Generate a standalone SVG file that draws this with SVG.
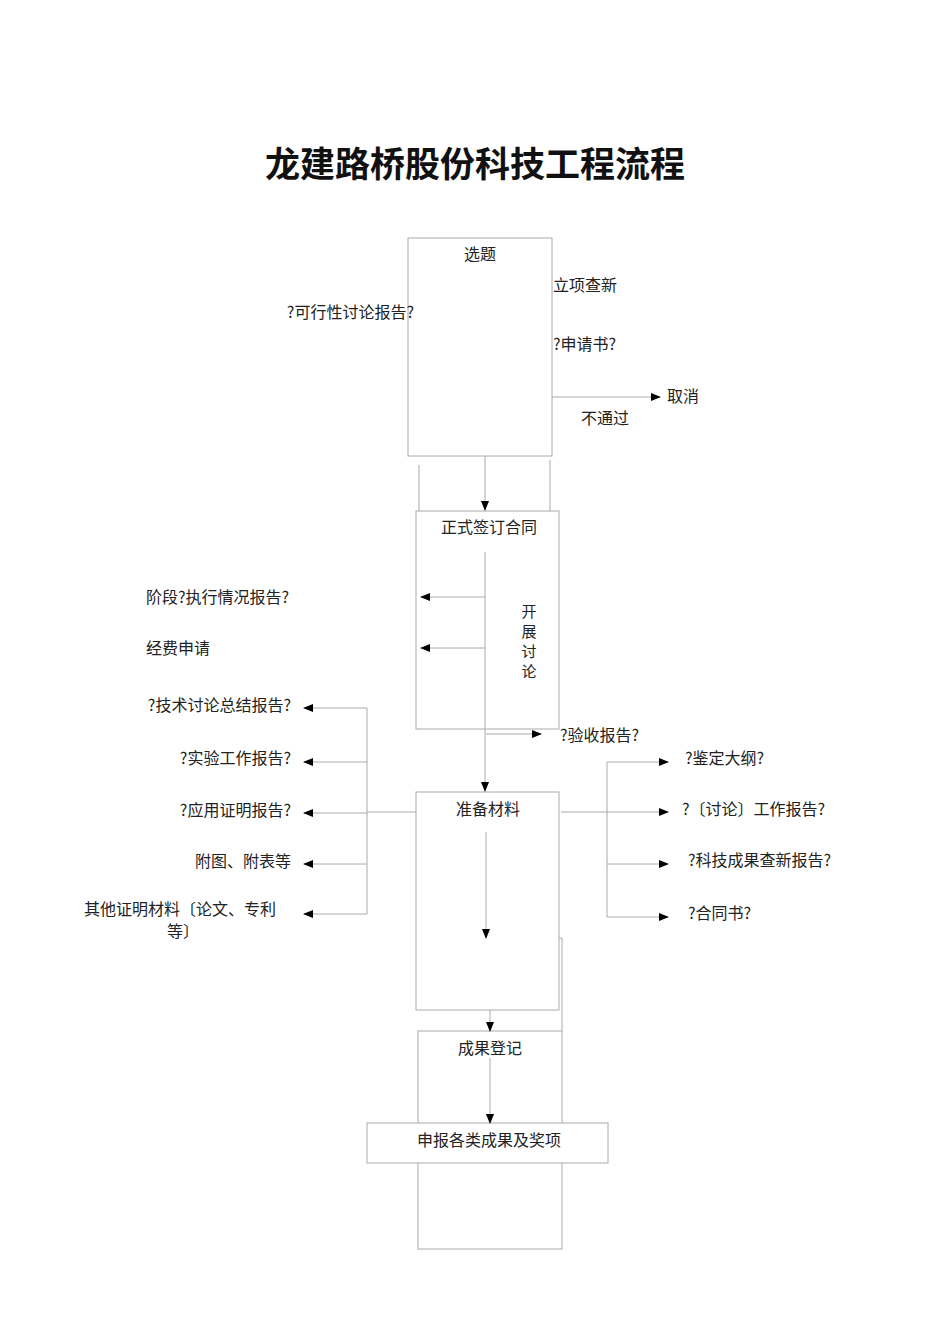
<svg xmlns="http://www.w3.org/2000/svg" width="950" height="1344" viewBox="0 0 950 1344">
<style>
text{font-family:"Noto Sans CJK SC","Liberation Sans",sans-serif;font-size:16px;fill:#222}
.t{font-size:35px;font-weight:bold;fill:#111}
.v{font-size:15px}
.b{fill:#fff;stroke:#aaa;stroke-width:1}
.l{stroke:#aaa;stroke-width:1;fill:none}
.a{stroke:#aaa;stroke-width:1;fill:none;marker-end:url(#ar)}
.m{text-anchor:middle}.e{text-anchor:end}
</style>
<defs><marker id="ar" markerWidth="10" markerHeight="8" refX="9" refY="4" orient="auto" markerUnits="userSpaceOnUse"><path d="M0,0L10,4L0,8z" fill="#000"/></marker></defs>
<rect width="950" height="1344" fill="#fff"/>
<text class="t m" x="475" y="177">龙建路桥股份科技工程流程</text>
<g id="n1"><rect class="b" x="408" y="238" width="144" height="218"/><text class="m" x="480" y="260">选题</text></g>
<g id="n2"><rect class="b" x="416" y="511" width="143" height="218"/><text class="m" x="489" y="533">正式签订合同</text></g>
<g id="n3"><rect class="b" x="416" y="792" width="143" height="218"/><text class="m" x="488" y="815">准备材料</text></g>
<g id="n4"><rect class="b" x="418" y="1031" width="144" height="218"/><text class="m" x="490" y="1054">成果登记</text></g>
<g id="n5"><rect class="b" x="367" y="1123" width="241" height="40"/><text class="m" x="489" y="1146">申报各类成果及奖项</text></g>
<g id="connectors">
<path class="a" d="M552,397H660"/>
<path class="l" d="M419,465V511M550,460V511"/>
<path class="a" d="M485,456V510"/>
<path class="a" d="M485,552V791"/>
<path class="a" d="M485,597H421"/>
<path class="a" d="M485,648H421"/>
<path class="a" d="M486,734H541"/>
<path class="a" d="M486,832V938"/>
<path class="l" d="M559,938H562V1031"/>
<path class="a" d="M490,1010V1031"/>
<path class="a" d="M490,1058V1123"/>
<path class="l" d="M416,812H367M367,708V914"/>
<path class="a" d="M367,708H304"/><path class="a" d="M367,762H304"/><path class="a" d="M367,813H304"/><path class="a" d="M367,864H304"/><path class="a" d="M367,914H304"/>
<path class="a" d="M561,812H668"/>
<path class="l" d="M607,762V917"/>
<path class="a" d="M607,762H668"/><path class="a" d="M607,864H668"/><path class="a" d="M607,917H668"/>
</g>
<g id="labels">
<text x="553" y="291">立项查新</text>
<text class="e" x="414" y="318">?可行性讨论报告?</text>
<text x="553" y="350">?申请书?</text>
<text x="667" y="402">取消</text>
<text x="581" y="424">不通过</text>
<text class="m v" x="529" y="617">开</text><text class="m v" x="529" y="637">展</text><text class="m v" x="529" y="657">讨</text><text class="m v" x="529" y="677">论</text>
<text x="146" y="603">阶段?执行情况报告?</text>
<text x="146" y="654">经费申请</text>
<text x="560" y="741">?验收报告?</text>
<text class="e" x="291" y="711">?技术讨论总结报告?</text>
<text class="e" x="291" y="764">?实验工作报告?</text>
<text class="e" x="291" y="816">?应用证明报告?</text>
<text class="e" x="291" y="867">附图、附表等</text>
<text x="84" y="915">其他证明材料〔论文、专利</text>
<text x="167" y="937">等〕</text>
<text x="685" y="764">?鉴定大纲?</text>
<text x="682" y="815">?〔讨论〕工作报告?</text>
<text x="688" y="866">?科技成果查新报告?</text>
<text x="688" y="919">?合同书?</text>
</g>
</svg>
